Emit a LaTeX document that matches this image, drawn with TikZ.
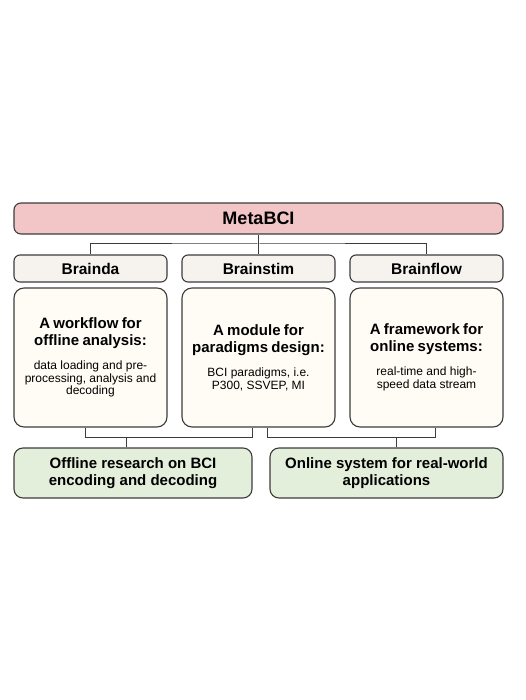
\documentclass[tikz,border=0pt]{standalone}
\usepackage{fontspec}
\setmainfont{Liberation Sans}
\usetikzlibrary{calc}
\usetikzlibrary{positioning}
\definecolor{metapink}{HTML}{F2C5C7}
\definecolor{tabbeige}{HTML}{F6F3EE}
\definecolor{cardcream}{HTML}{FEFCF4}
\definecolor{appgreen}{HTML}{E3EFDA}
\definecolor{edgegray}{HTML}{3C3C3C}
\newcommand{\cardhead}{\fontsize{15}{17}\selectfont\bfseries}
\newcommand{\cardbody}{\fontsize{12}{12.6}\selectfont}
\tikzset{
    boxnode/.style={
        rectangle,        % 矩形
        draw=edgegray,    % 边框颜色
        line width=1.1pt, % 边框粗细
        inner sep=0,
        align=center
    },
    metanode/.style={boxnode, fill=metapink, rounded corners=7pt,
        minimum width=489pt, minimum height=31pt,
        font=\fontsize{18}{20}\selectfont\bfseries},
    tabnode/.style={boxnode, fill=tabbeige, rounded corners=6pt,
        minimum width=153pt, minimum height=27pt,
        font=\fontsize{15.5}{18}\selectfont\bfseries},
    cardnode/.style={boxnode, fill=cardcream, rounded corners=10pt,
        text width=148pt, minimum width=153pt, minimum height=139pt},
    appnode/.style={boxnode, fill=appgreen, rounded corners=9pt,
        minimum height=50pt,
        font=\fontsize{15}{17}\selectfont\bfseries},
    linkline/.style={draw=edgegray, line width=1pt}
}

\begin{document}
\begin{tikzpicture}[x=1pt, y=-1pt]
\useasboundingbox (0,0) rectangle (525,700);

\def\xa{90.5}
\def\xb{258.5}
\def\xc{426.5}
\def\ytab{268.5}
\def\ycard{357.5}
\def\yapp{473}
% 定义点
\coordinate (Pmeta) at (\xb, 218.5);
\coordinate (Phub) at (\xb, 244);
\coordinate (Poff) at (133, \yapp);
\coordinate (Pon) at (386.5, \yapp);
\coordinate (Joffl) at (85, 437.3);
\coordinate (Joffr) at (252, 437.3);
\coordinate (Joffm) at (126, 437.3);
\coordinate (Jonl) at (267, 437.3);
\coordinate (Jonr) at (435, 437.3);
\coordinate (Jonm) at (396, 437.3);

\node[metanode] (meta) at (Pmeta) {MetaBCI};

\node[tabnode] (brainda) at (\xa, \ytab) {Brainda};
\node[tabnode] (brainstim) at (\xb, \ytab) {Brainstim};
\node[tabnode] (brainflow) at (\xc, \ytab) {Brainflow};

\node[cardnode] (workflow) at (\xa, \ycard)
    {{\cardhead A workflow for\\offline analysis:\par}\vspace{11.5pt}%
     {\cardbody data loading and pre-\\processing, analysis and\\decoding\par}};
\node[cardnode] (module) at (\xb, \ycard)
    {{\cardhead A module for\\paradigms design:\par}\vspace{11.5pt}%
     {\cardbody BCI paradigms, i.e.\\P300, SSVEP, MI\par}};
\node[cardnode] (framework) at (\xc, \ycard)
    {{\cardhead A framework for\\online systems:\par}\vspace{11.5pt}%
     {\cardbody real-time and high-\\speed data stream\par}};

\node[appnode, minimum width=238pt] (offline) at (Poff)
    {Offline research on BCI\\encoding and decoding};
\node[appnode, minimum width=233pt] (online) at (Pon)
    {Online system for real-world\\applications};

% 连线
\draw[linkline] (meta.south) -- (Phub);
\draw[linkline] (brainda.north) |- (Phub) -| (brainflow.north);
\draw[linkline] (Phub) -- (brainstim.north);

\draw[linkline] (workflow.south -| Joffl) -- (Joffl) -- (Joffr) -- (module.south -| Joffr);
\draw[linkline] (Joffm) -- (offline.north -| Joffm);
\draw[linkline] (module.south -| Jonl) -- (Jonl) -- (Jonr) -- (framework.south -| Jonr);
\draw[linkline] (Jonm) -- (online.north -| Jonm);

\end{tikzpicture}
\end{document}
